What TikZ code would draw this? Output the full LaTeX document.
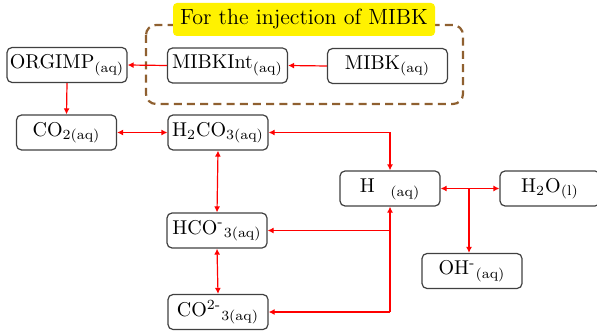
\documentclass[tikz,border=0pt]{standalone}
\usetikzlibrary{arrows.meta}
\tikzset{
  species/.style={draw=black!75, line width=0.6pt, rounded corners=2.5pt, minimum height=17.5pt, minimum width=50pt, inner sep=1pt, font=\fontsize{10}{12}\selectfont},
  wide/.style={minimum width=60pt},
  conn/.style={draw=red, line width=0.6pt},
  tip/.tip={Latex[length=3pt,width=3pt]}
}
\begin{document}
\begin{tikzpicture}[x=0.5pt,y=-0.5pt]
\useasboundingbox (0,0) rectangle (597,331);
% dashed group
\draw[draw=brown!75!black, line width=1.1pt, dash pattern=on 4pt off 2.6pt, rounded corners=5pt] (146,25) rectangle (463,104);
\node[fill=yellow, rounded corners=2pt, minimum width=131pt, minimum height=16.5pt, inner sep=0pt, font=\fontsize{11}{13}\selectfont] (title) at (304,19.5) {For the injection of MIBK};
% species
\node[species, wide] (orgimp) at (67,65) {ORGIMP\textsubscript{(aq)}};
\node[species, wide] (mibkint) at (227.5,65.5) {MIBKInt\textsubscript{(aq)}};
\node[species, wide] (mibk) at (387.5,66) {MIBK\textsubscript{(aq)}};
\node[species] (co2) at (66.5,132.5) {CO\textsubscript{2(aq)}};
\node[species] (h2co3) at (218,132.5) {H\textsubscript{2}CO\textsubscript{3(aq)}};
\node[species] (h) at (390,188.5) {H\textsuperscript{\phantom{+}}\textsubscript{\,(aq)}};
\node[species] (h2o) at (550,188.5) {H\textsubscript{2}O\textsubscript{(l)}};
\node[species] (hco3) at (217,230.5) {HCO\textsuperscript{-}\textsubscript{3(aq)}};
\node[species] (oh) at (472,271) {OH\textsuperscript{-}\textsubscript{(aq)}};
\node[species] (co3) at (218,312) {CO\textsuperscript{2-}\textsubscript{3(aq)}};
% connectors
\draw[conn, -tip] (mibk.west) -- (mibkint.east);
\draw[conn, -tip] (mibkint.west) -- (orgimp.east);
\draw[conn, -tip] (orgimp.south) -- (co2.north);
\draw[conn, tip-tip] (co2.east) -- (h2co3.west);
\draw[conn, tip-tip] (h2co3.east) -| (h.north);
\draw[conn, tip-tip] (h2co3.south) -- (hco3.north);
\draw[conn, tip-tip] (hco3.south) -- (co3.north);
\draw[conn, tip-tip] (h.east) -- (h2o.west);
\coordinate (split) at (469,188.5);
\draw[conn, -tip] (split) -- (split |- oh.north);
\coordinate (bottom) at (h.south |- co3.east);
\draw[conn, -tip] (bottom) -- (h.south);
\draw[conn, -tip] (h.south |- hco3.east) -- (hco3.east);
\draw[conn, -tip] (bottom) -- (co3.east);
\end{tikzpicture}
\end{document}
